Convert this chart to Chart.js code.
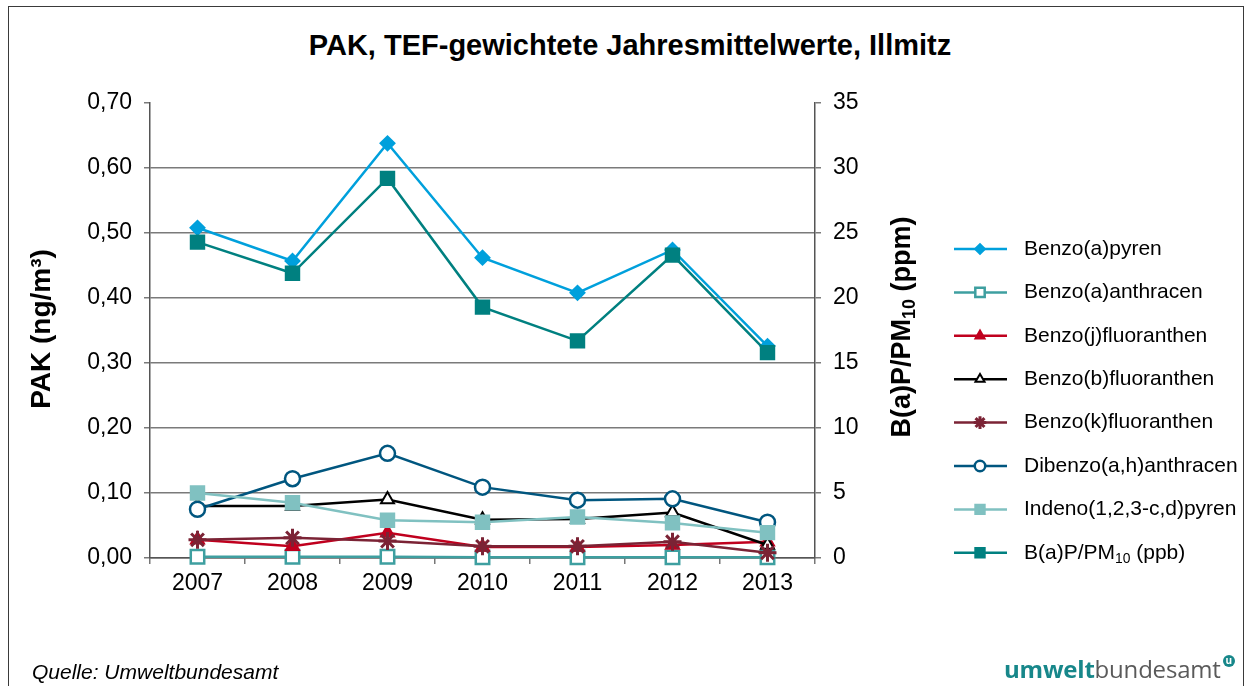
<!DOCTYPE html>
<html>
<head>
<meta charset="utf-8">
<script src="https://cdn.jsdelivr.net/npm/chart.js@4/dist/chart.umd.min.js"></script>
<style>
  body { margin: 0; background: #fff; }
  #wrap { position: relative; width: 1252px; height: 686px; overflow: hidden; background: #fff; font-family: "Liberation Sans", Arial, sans-serif; }
  #frame { position: absolute; left: 8px; top: 6px; width: 1236px; height: 720px; border: 1.5px solid #3a3a3a; box-sizing: border-box; }
  #chart { position: absolute; left: 0; top: 0; }
  #title { position: absolute; left: 0; top: 28px; width: 1260px; text-align: center; font-weight: bold; font-size: 29px; line-height: 35px; color: #000; }
  #source { position: absolute; left: 32px; top: 660px; font-style: italic; font-size: 21px; color: #000; }
  #logo { position: absolute; left: 1004px; top: 652px; font-family: "Open Sans", "Noto Sans", sans-serif; font-size: 24px; color: #5a5a5a; letter-spacing: -0.2px; }
  #logo b { color: #17878a; font-weight: 700; }
  #logo .mark { display: inline-block; width: 12px; height: 12px; border-radius: 6px; background: #17878a; color: #fff; font-size: 10px; line-height: 11px; text-align: center; font-weight: bold; vertical-align: 14px; margin-left: 2px; }
</style>
</head>
<body>
<div id="wrap">
  <div id="frame"></div>
  <div id="title">PAK, TEF-gewichtete Jahresmittelwerte, Illmitz</div>
  <canvas id="chart" width="1252" height="686"></canvas>
  <div id="source">Quelle: Umweltbundesamt</div>
  <div id="logo"><b>umwelt</b>bundesamt<span class="mark">u</span></div>
</div>
<script>
const years = ["2007", "2008", "2009", "2010", "2011", "2012", "2013"];

// PAK in ng/m³ (left axis)
const benzoAPyren = [0.508, 0.457, 0.638, 0.462, 0.408, 0.474, 0.326];
const benzoAAnthracen = [0.002, 0.002, 0.002, 0.001, 0.001, 0.001, 0.001];
const benzoJFluoranthen = [0.028, 0.018, 0.039, 0.017, 0.017, 0.020, 0.025];
const benzoBFluoranthen = [0.080, 0.080, 0.090, 0.059, 0.060, 0.070, 0.020];
const benzoKFluoranthen = [0.028, 0.031, 0.026, 0.018, 0.018, 0.025, 0.008];
const dibenzoAHAnthracen = [0.075, 0.122, 0.161, 0.109, 0.089, 0.091, 0.055];
const indenoPyren = [0.100, 0.085, 0.058, 0.055, 0.063, 0.054, 0.039];

// B(a)P/PM10 (right axis)
const bapPm10 = [24.3, 21.9, 29.2, 19.3, 16.7, 23.3, 15.8];

const leftTicks = { min: 0, max: 0.7, step: 0.1 };
const rightTicks = { min: 0, max: 35, step: 5 };

const FONT = "'Liberation Sans', Arial, sans-serif";

function series(label, data, color, style, radius, fill, extra) {
  return Object.assign({
    label,
    data,
    borderColor: color,
    backgroundColor: color,
    borderWidth: 2.5,
    pointStyle: style,
    pointRadius: radius,
    pointHoverRadius: radius,
    pointBackgroundColor: fill,
    pointBorderColor: color,
    pointBorderWidth: 2,
    tension: 0,
    clip: false,
    yAxisID: "y",
  }, extra || {});
}

const datasets = [
  series("Benzo(a)pyren", benzoAPyren, "#00a0dc", "rectRot", 7, "#00a0dc"),
  series("Benzo(a)anthracen", benzoAAnthracen, "#3e9fa0", "rect", 9.5, "#ffffff", { pointBorderWidth: 2.5 }),
  series("Benzo(j)fluoranthen", benzoJFluoranthen, "#c0001e", "triangle", 7.5, "#c0001e"),
  series("Benzo(b)fluoranthen", benzoBFluoranthen, "#000000", "triangle", 7.5, "#ffffff"),
  series("Benzo(k)fluoranthen", benzoKFluoranthen, "#7b2335", "star", 9, "#7b2335", { pointBorderWidth: 3 }),
  series("Dibenzo(a,h)anthracen", dibenzoAHAnthracen, "#00567f", "circle", 7.5, "#ffffff", { pointBorderWidth: 2.5 }),
  series("Indeno(1,2,3-c,d)pyren", indenoPyren, "#80c1c1", "rect", 9.5, "#80c1c1"),
  series("B(a)P/PM10 (ppb)", bapPm10, "#008080", "rect", 9.5, "#008080", { yAxisID: "y1" }),
];
// later series on top, like the original
datasets.forEach((d, i) => { d.order = datasets.length - i; });

// draws text with "10" after "PM" as subscript
function drawSubText(ctx, text, x, y, size, bold) {
  const m = text.match(/^(.*PM)(10)(.*)$/);
  const parts = m ? [[m[1], false], [m[2], true], [m[3], false]] : [[text, false]];
  let cx = x;
  parts.forEach(([t, sub]) => {
    ctx.font = (bold ? "bold " : "") + (sub ? size * 0.66 : size) + "px " + FONT;
    ctx.fillText(t, cx, sub ? y + size * 0.28 : y);
    cx += ctx.measureText(t).width;
  });
  return cx - x;
}

const decorPlugin = {
  id: "decor",
  afterDraw(chart) {
    const ctx = chart.ctx;

    // axis titles
    ctx.save();
    ctx.fillStyle = "#000";
    ctx.textBaseline = "middle";
    ctx.textAlign = "left";
    ctx.translate(42, 329);
    ctx.rotate(-Math.PI / 2);
    ctx.font = "bold 28px " + FONT;
    const lw = ctx.measureText("PAK (ng/m³)").width;
    ctx.fillText("PAK (ng/m³)", -lw / 2, 0);
    ctx.restore();

    ctx.save();
    ctx.fillStyle = "#000";
    ctx.textBaseline = "middle";
    ctx.textAlign = "left";
    ctx.translate(903, 327);
    ctx.rotate(-Math.PI / 2);
    const rt = "B(a)P/PM10 (ppm)";
    ctx.globalAlpha = 0;
    const rw = drawSubText(ctx, rt, 0, 0, 27, true);
    ctx.globalAlpha = 1;
    drawSubText(ctx, rt, -rw / 2, 0, 27, true);
    ctx.restore();

    // legend
    const top = 249, step = 43.4;
    chart.data.datasets.forEach((ds, i) => {
      const y = top + i * step;
      ctx.save();
      ctx.strokeStyle = ds.borderColor;
      ctx.lineWidth = ds.borderWidth;
      ctx.beginPath();
      ctx.moveTo(954, y);
      ctx.lineTo(1007, y);
      ctx.stroke();
      ctx.fillStyle = ds.pointBackgroundColor;
      ctx.strokeStyle = ds.pointBorderColor;
      ctx.lineWidth = ds.pointBorderWidth;
      if (Chart.helpers && Chart.helpers.drawPoint) {
        Chart.helpers.drawPoint(ctx, {
          pointStyle: ds.pointStyle,
          radius: ds.pointRadius * 0.7,
          rotation: 0,
          borderWidth: ds.pointBorderWidth,
        }, 980, y);
      }
      ctx.fillStyle = "#000";
      ctx.textBaseline = "middle";
      ctx.textAlign = "left";
      drawSubText(ctx, ds.label, 1024, y, 21, false);
      ctx.restore();
    });
  },
};

const ctx = document.getElementById("chart").getContext("2d");
new Chart(ctx, {
  type: "line",
  data: { labels: years, datasets },
  options: {
    responsive: false,
    animation: false,
    layout: { padding: { left: 0, right: 337, top: 103, bottom: 78 } },
    plugins: {
      legend: { display: false },
      tooltip: { enabled: false },
      title: { display: false },
    },
    scales: {
      x: {
        offset: true,
        grid: { offset: true, drawOnChartArea: false, drawTicks: true, tickLength: 6, color: "#777", lineWidth: 1.5 },
        border: { color: "#555", width: 1.5 },
        ticks: { color: "#000", font: { family: FONT, size: 23 }, padding: 6 },
        afterFit: (s) => { s.height = 50; },
      },
      y: {
        position: "left",
        min: leftTicks.min,
        max: leftTicks.max,
        ticks: {
          stepSize: leftTicks.step,
          color: "#000",
          font: { family: FONT, size: 23 },
          padding: 12,
          callback: (v) => v.toFixed(2).replace(".", ","),
        },
        grid: {
          color: (c) => (c.tick && c.tick.value > 0.69 ? "rgba(0,0,0,0)" : "#7a7a7a"),
          tickColor: "#7a7a7a",
          lineWidth: 1.5,
          tickLength: 6,
        },
        border: { color: "#555", width: 1.5 },
        afterFit: (s) => { s.width = 150; },
      },
      y1: {
        position: "right",
        min: rightTicks.min,
        max: rightTicks.max,
        ticks: {
          stepSize: rightTicks.step,
          color: "#000",
          font: { family: FONT, size: 23 },
          padding: 12,
        },
        grid: { drawOnChartArea: false, tickLength: 6, color: "#7a7a7a", lineWidth: 1.5 },
        border: { color: "#555", width: 1.5 },
        afterFit: (s) => { s.width = 100; },
      },
    },
  },
  plugins: [decorPlugin],
});
</script>
</body>
</html>
